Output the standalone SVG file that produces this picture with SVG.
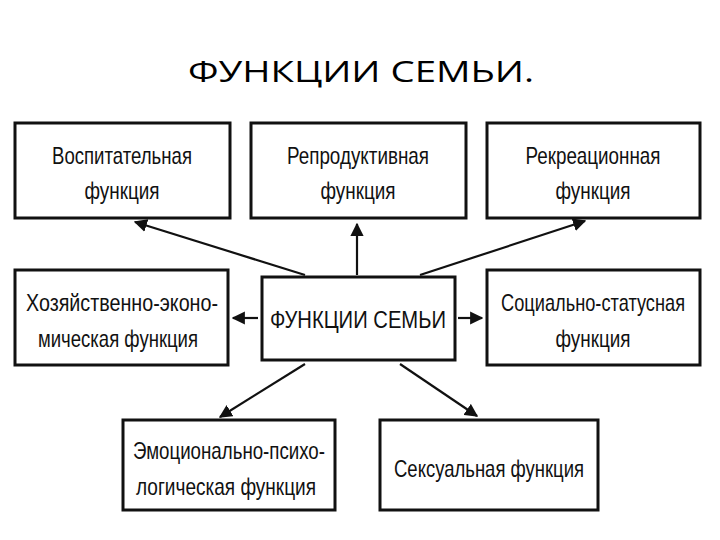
<svg xmlns="http://www.w3.org/2000/svg" width="720" height="540" viewBox="0 0 720 540">
<style>
.b{fill:#fff;stroke:#111;stroke-width:3}
.t{font-family:"Liberation Sans",Arial,sans-serif;font-size:24px;fill:#111;text-anchor:middle}
.c{stroke:#111;stroke-width:2.2;fill:none;marker-end:url(#a)}
</style>
<defs><marker id="a" viewBox="0 0 10 10" refX="9" refY="5" markerWidth="6" markerHeight="6" orient="auto"><path d="M0,0L10,5L0,10z" fill="#111"/></marker></defs>
<rect width="720" height="540" fill="#fff"/>
<text x="361" y="82" font-family="'Open Sans','Liberation Sans',sans-serif" font-size="30" text-anchor="middle" fill="#000" textLength="346" lengthAdjust="spacingAndGlyphs">ФУНКЦИИ СЕМЬИ.</text>
<g id="n1"><rect class="b" x="15" y="123" width="215" height="95"/><text class="t" x="122" y="164" textLength="140" lengthAdjust="spacingAndGlyphs">Воспитательная</text><text class="t" x="122" y="199" textLength="75" lengthAdjust="spacingAndGlyphs">функция</text></g>
<g id="n2"><rect class="b" x="251" y="123" width="215" height="95"/><text class="t" x="358" y="164" textLength="142" lengthAdjust="spacingAndGlyphs">Репродуктивная</text><text class="t" x="358" y="199" textLength="75" lengthAdjust="spacingAndGlyphs">функция</text></g>
<g id="n3"><rect class="b" x="487" y="123" width="213" height="95"/><text class="t" x="593" y="164" textLength="135" lengthAdjust="spacingAndGlyphs">Рекреационная</text><text class="t" x="593" y="199" textLength="75" lengthAdjust="spacingAndGlyphs">функция</text></g>
<g id="n4"><rect class="b" x="15" y="270" width="213" height="95"/><text class="t" x="122" y="311" textLength="192" lengthAdjust="spacingAndGlyphs">Хозяйственно-эконо-</text><text class="t" x="118" y="347" textLength="160" lengthAdjust="spacingAndGlyphs">мическая функция</text></g>
<g id="n5"><rect class="b" x="262" y="277" width="193" height="83"/><text class="t" x="358" y="328" font-size="27" textLength="176" lengthAdjust="spacingAndGlyphs">ФУНКЦИИ СЕМЬИ</text></g>
<g id="n6"><rect class="b" x="487" y="270" width="213" height="95"/><text class="t" x="593" y="311" textLength="184" lengthAdjust="spacingAndGlyphs">Социально-статусная</text><text class="t" x="593" y="347" textLength="75" lengthAdjust="spacingAndGlyphs">функция</text></g>
<g id="n7"><rect class="b" x="123" y="420" width="212" height="90"/><text class="t" x="229" y="459" textLength="192" lengthAdjust="spacingAndGlyphs">Эмоционально-психо-</text><text class="t" x="226" y="495" textLength="180" lengthAdjust="spacingAndGlyphs">логическая функция</text></g>
<g id="n8"><rect class="b" x="380" y="420" width="218" height="90"/><text class="t" x="489" y="477" textLength="190" lengthAdjust="spacingAndGlyphs">Сексуальная функция</text></g>
<g id="connectors">
<line class="c" x1="305" y1="275" x2="135" y2="222"/>
<line class="c" x1="357" y1="275" x2="357" y2="224"/>
<line class="c" x1="420" y1="275" x2="585" y2="221"/>
<line class="c" x1="258" y1="318" x2="233" y2="318"/>
<line class="c" x1="458" y1="318" x2="482" y2="318"/>
<line class="c" x1="305" y1="364" x2="220" y2="417"/>
<line class="c" x1="400" y1="364" x2="477" y2="416"/>
</g>
</svg>
